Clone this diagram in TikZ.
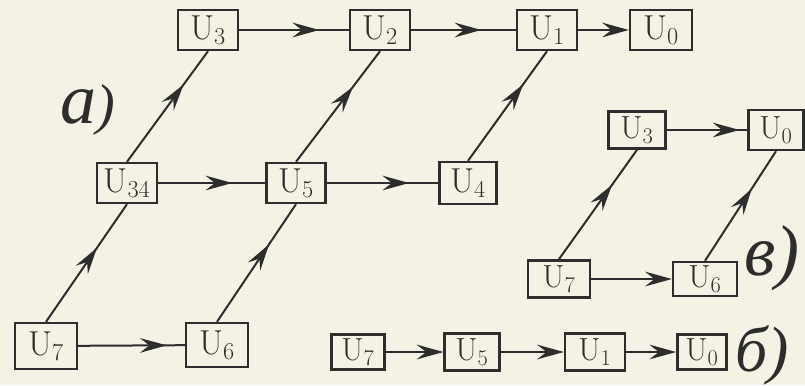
\documentclass[tikz,border=0pt]{standalone}
\usepackage{fontspec}
\newfontfamily\labfont{Liberation Serif}
\usetikzlibrary{arrows.meta,decorations.markings}
\definecolor{paper}{RGB}{244,242,228}
\definecolor{ink}{RGB}{45,45,45}
\tikzset{
  bx/.style={draw=ink, line width=1.8pt, minimum width=45pt, minimum height=30pt,
    inner sep=0pt, text=ink, font=\fontsize{26}{30}\selectfont},
  bxs/.style={bx, font=\fontsize{24}{28}\selectfont},
  conn/.style={draw=ink, line width=1.5pt},
  midarr/.style={conn, postaction={decorate},
    decoration={markings, mark=at position #1 with {\arrow[ink]{Stealth[length=20pt,width=11pt,inset=7pt]}}}},
  endarr/.style={conn, -{Stealth[length=20pt,width=11pt,inset=7pt]}},
  lab/.style={text=ink, inner sep=0pt}
}
\begin{document}
\begin{tikzpicture}[x=0.75pt,y=-0.75pt]
\fill[paper] (0,0) rectangle (805,385);
\useasboundingbox (0,0) rectangle (805,385);
% diagram a
\node[bx] (a3) at (208,30) {U\textsubscript{3}};
\node[bx] (a2) at (380,30) {U\textsubscript{2}};
\node[bx] (a1) at (547,30) {U\textsubscript{1}};
\node[bx, minimum width=46.5pt] (a0) at (661,30) {U\textsubscript{0}};
\node[bx] (a34) at (127,183) {U\textsubscript{34}};
\node[bx, minimum width=44pt] (a5) at (296,183) {U\textsubscript{5}};
\node[bx, minimum width=43pt, minimum height=31.5pt] (a4) at (468,183) {U\textsubscript{4}};
\node[bx, minimum width=46.5pt, minimum height=34.5pt] (a7) at (46,346) {U\textsubscript{7}};
\node[bx, minimum width=46.5pt, minimum height=33pt] (a6) at (217,345) {U\textsubscript{6}};
\draw[midarr=0.73] (a3) -- (a2);
\draw[midarr=0.67] (a2) -- (a1);
\draw[endarr] (a1) -- (a0);
\draw[midarr=0.69] (a34) -- (a5);
\draw[midarr=0.74] (a5) -- (a4);
\draw[midarr=0.83] (a7) -- (a6);
\draw[midarr=0.63] (a7.north) -- (a34.south);
\draw[midarr=0.70] (a34.north) -- (a3.south);
\draw[midarr=0.66] (a6.north) -- (a5.south);
\draw[midarr=0.68] (a5.north) -- (a2.south);
\draw[midarr=0.70] (a4.north) -- (a1.south);
\node[lab] (la) at (88,110) {\labfont\itshape{\fontsize{54}{58}\selectfont а}{\fontsize{42}{46}\selectfont )}};
% diagram v
\node[bxs, minimum width=43pt, minimum height=28pt] (b3) at (637,130) {U\textsubscript{3}};
\node[bxs, minimum width=41pt, minimum height=30pt] (b0) at (776,130) {U\textsubscript{0}};
\node[bxs, minimum width=46.5pt, minimum height=28pt] (b7) at (559,279) {U\textsubscript{7}};
\node[bxs, minimum width=48pt, minimum height=25.5pt] (b6) at (705,279) {U\textsubscript{6}};
\draw[midarr=0.9] (b3) -- (b0);
\draw[endarr] (b7) -- (b6);
\draw[midarr=0.68] (b7.north) -- (b3.south);
\draw[midarr=0.66] (b6.north) -- (b0.south);
\node[lab] (lv) at (772,258) {\labfont\itshape\fontsize{54}{58}\selectfont в)};
% diagram b
\node[bxs, minimum width=40pt, minimum height=26pt] (c7) at (358,352) {U\textsubscript{7}};
\node[bxs, minimum width=41pt, minimum height=28pt] (c5) at (472,352) {U\textsubscript{5}};
\node[bxs, minimum width=45pt, minimum height=28pt] (c1) at (595,352) {U\textsubscript{1}};
\node[bxs, minimum width=37pt, minimum height=26pt] (c0) at (702,352) {U\textsubscript{0}};
\draw[endarr] (c7) -- (c5);
\draw[endarr] (c5) -- (c1);
\draw[endarr] (c1) -- (c0);
\node[lab] (lb) at (762,355) {\labfont\itshape\fontsize{48}{52}\selectfont б)};
\end{tikzpicture}
\end{document}
